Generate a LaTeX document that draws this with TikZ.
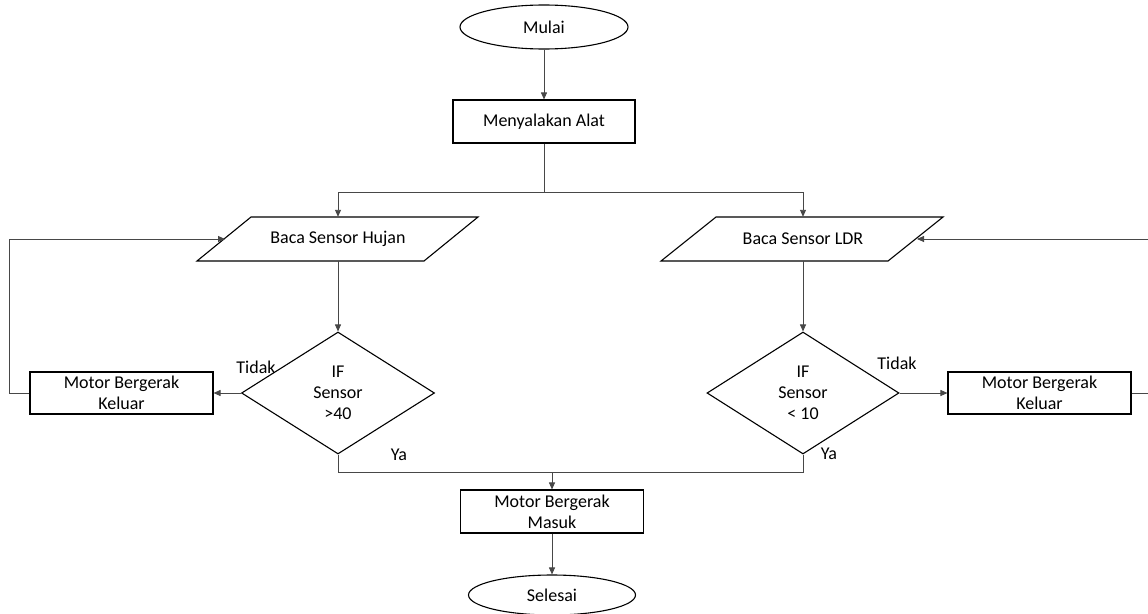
\documentclass[tikz,border=0pt]{standalone}
\usepackage{fontspec}
\setmainfont{Carlito}
\usetikzlibrary{shapes.geometric,arrows.meta,calc}

\begin{document}
\begin{tikzpicture}[
  x=1pt, y=-1pt,
  font=\fontsize{18}{21}\selectfont,
  shapeline/.style={draw=black, line width=1.1pt},
  terminal/.style={shapeline, ellipse, inner sep=0pt},
  procbox/.style={shapeline, rectangle, inner sep=0pt, align=center,
                  minimum width=183pt, minimum height=43pt},
  iotext/.style={inner sep=0pt, minimum width=172pt, minimum height=44pt},
  decision/.style={shapeline, diamond, inner sep=0pt, align=center,
                   minimum width=193pt, minimum height=122pt},
  conn/.style={draw=black!72, line width=0.9pt},
  flow/.style={conn, -{Triangle[length=7pt,width=6pt]}},
  lbl/.style={inner sep=0pt}
]
\useasboundingbox (0,0) rectangle (1148,613);

% start, initialisation
\node[terminal, minimum width=168pt, minimum height=44pt] (mulai) at (544,27) {Mulai};
\node[procbox, minimum width=182pt] (alat) at (544,121.5) {Menyalakan Alat};

% input blocks (parallelograms drawn around plain text nodes)
\node[iotext] (hujan) at (338,239) {Baca Sensor Hujan};
\draw[shapeline] ($(hujan.center)+(-87,-22)$) -- ++(227,0) -- ++(-54,44) -- ++(-227,0) -- cycle;
\coordinate (hujanIn) at ($(hujan.center)+(-113,0)$);

\node[iotext] (ldr) at (803,239) {Baca Sensor LDR};
\draw[shapeline] ($(ldr.center)+(-87,-22)$) -- ++(227,0) -- ++(-55,44) -- ++(-227,0) -- cycle;
\coordinate (ldrIn) at ($(ldr.center)+(114,0)$);

% decisions
\node[decision] (cekHujan) at (338,393) {IF\\Sensor\\>40};
\node[decision, minimum width=192pt] (cekLdr) at (803,393) {IF\\Sensor\\< 10};

% motor actions
\node[procbox, minimum height=42pt] (keluarA) at (121.5,393) {Motor Bergerak\\Keluar};
\node[procbox, minimum height=42pt] (keluarB) at (1039.5,393) {Motor Bergerak\\Keluar};
\node[procbox] (masuk) at (552,511.5) {Motor Bergerak\\Masuk};

% end
\node[terminal, minimum width=167pt, minimum height=40pt] (selesai) at (552,595) {Selesai};

% labels
\node[lbl] at (256,367) {Tidak};
\node[lbl] at (399,455) {Ya};
\node[lbl] at (897,363) {Tidak};
\node[lbl] at (829,454) {Ya};

% connectors
\draw[flow] (mulai) -- (alat);
\draw[conn] (alat.south) -- ++(0,49) coordinate (split);
\draw[flow] (split) -| (hujan.north);
\draw[flow] (split) -| (ldr.north);

\draw[flow] (hujan.south) -- (cekHujan.north);
\draw[flow] (ldr.south) -- (cekLdr.north);

\draw[flow] (cekHujan.west) -- (keluarA.east);
\draw[flow] (cekLdr.east) -- (keluarB.west);

\draw[flow] (keluarA.west) -- ++(-20,0) |- (hujanIn);
\coordinate (rightRail) at (1150,393);
\draw[flow] (keluarB.east) -- (rightRail) |- (ldrIn);

\coordinate (merge) at (552,472);
\draw[conn] (cekHujan.south) |- (merge);
\draw[conn] (cekLdr.south) |- (merge);
\draw[flow] (merge) -- (masuk.north);
\draw[flow] (masuk) -- (selesai);
\end{tikzpicture}
\end{document}
